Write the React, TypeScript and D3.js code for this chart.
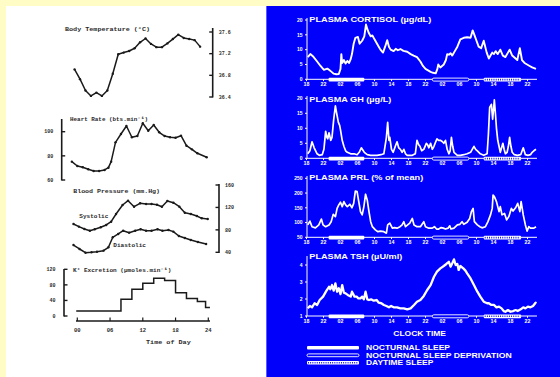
import React from 'react';
import * as d3 from 'd3';

const W = 560;
const H = 377;

// ---------------- LEFT PANEL DATA (one day) ----------------
const dayTicks = [0, 6, 12, 18, 24];
const dayTickLabels = ['00', '06', '12', '18', '24'];

const tempHours = [-0.5, 0.5, 1.5, 2.5, 3.5, 4.5, 5.5, 6.5, 7.5, 8.5, 9.5, 10.5, 11.5, 12.5, 13.5, 14.5, 15.5, 16.5, 17.5, 18.5, 19.5, 20.5, 21.5, 22.5];
const tempValues = [36.91, 36.73, 36.52, 36.42, 36.48, 36.42, 36.52, 36.83, 37.19, 37.22, 37.25, 37.3, 37.41, 37.48, 37.38, 37.32, 37.32, 37.39, 37.47, 37.55, 37.49, 37.47, 37.45, 37.33];
const tempTicks = [36.4, 36.8, 37.2, 37.6];

const hrHours = [-1, 0, 1, 2, 3, 4, 5, 5.7, 6.2, 7, 8, 9, 10, 11, 12, 13, 14, 15, 16, 17, 18, 19, 20, 21, 22, 23.7];
const hrValues = [75.2, 71.6, 70.5, 68.9, 67.5, 67.5, 68.3, 70.2, 75.2, 91.2, 98.1, 104.7, 95.4, 96.4, 107, 100.8, 105.5, 99.5, 96.4, 95.4, 95, 96.7, 88.4, 85.4, 82.1, 78.8];
const hrTicks = [60, 80, 100];

const sysHours = [-0.7, 0.3, 1.3, 2.3, 3.2, 4.3, 5.3, 6.2, 7.1, 8.3, 9.3, 10.4, 11.5, 12.6, 13.6, 14.6, 15.5, 16.5, 17.6, 18.7, 19.7, 20.8, 21.9, 22.8, 23.9];
const sysValues = [90.5, 85.7, 81.6, 78.5, 81, 84.6, 88.7, 94.6, 108.3, 124.3, 132, 121.3, 127.4, 126.1, 126.1, 124.9, 121.3, 131.5, 128.4, 121.3, 110.6, 108.3, 104.7, 100.6, 99.4];
const diaHours = [-0.7, 0.4, 1.5, 2.6, 3.6, 4.8, 5.7, 6.5, 7.5, 8.4, 9.5, 10.6, 11.6, 12.6, 13.6, 14.7, 15.6, 16.7, 17.6, 18.6, 19.7, 20.8, 22.1, 23.6];
const diaValues = [53, 45.9, 39.3, 40, 41.1, 42.9, 48.9, 66.8, 72.7, 78.5, 75, 78.5, 81, 78.5, 78.5, 81, 78.5, 79.8, 76.8, 69, 65.5, 62, 58.4, 54.8];
const bpTicks = [40, 80, 120, 160];

const kStepStarts = [-0.2, 8, 10, 12, 14, 16, 18, 20, 22, 23.5];
const kStepValues = [13, 43, 69, 84, 97, 91, 60, 45, 37, 22];
const kStepEnd = 24.3;
const kTicks = [0, 40, 80, 120];

// ---------------- RIGHT PANEL DATA (three days) ----------------
const clockTicks = [0, 4, 8, 12, 16, 20, 24, 28, 32, 36, 40, 44, 48, 52];
const clockLabels = ['18', '22', '02', '06', '10', '14', '18', '22', '02', '06', '10', '14', '18', '22'];

const nocturnalSleep = [5.2, 13.6];
const sleepDeprivation = [29.6, 38.2];
const daytimeSleep = [41.7, 50.5];

const cortT = [0.3, 0.9, 1.5, 2.5, 3.3, 4.1, 4.9, 5.3, 5.9, 6.4, 7.0, 7.6, 8.0, 8.2, 8.4, 8.8, 9.2, 9.6, 10.0, 10.4, 10.7, 11.1, 11.5, 12.1, 12.5, 13.1, 13.6, 14.0, 14.3, 14.7, 15.1, 15.5, 15.8, 16.2, 16.6, 17.0, 17.4, 18.0, 18.5, 19.0, 19.4, 19.8, 20.5, 21.0, 21.5, 22.1, 22.8, 23.7, 24.5, 25.2, 26.0, 26.8, 27.4, 28.0, 28.6, 29.2, 29.8, 30.4, 30.8, 31.0, 31.5, 32.3, 32.8, 33.1, 33.5, 33.9, 34.3, 34.9, 35.5, 36.2, 37.0, 37.8, 38.6, 39.1, 39.5, 40.0, 40.5, 41.1, 41.7, 42.4, 42.9, 43.3, 43.7, 44.1, 44.5, 45.0, 45.6, 46.2, 46.8, 47.4, 47.8, 48.4, 48.8, 49.2, 49.6, 50.2, 50.7, 51.3, 51.9, 52.5, 53.1, 54.0];
const cortV = [7.5, 8.5, 7.8, 6, 4.5, 3.2, 3.6, 3.2, 2.5, 1.9, 1.7, 1.8, 3.5, 8.5, 5.5, 6.5, 5.3, 6.2, 5.5, 6.8, 8.5, 12, 14, 14.3, 12, 13, 14.5, 18.5, 17, 15.5, 14.5, 14.8, 14, 13, 12, 11, 10, 9, 11, 13.2, 11, 10, 9.5, 10.3, 9.8, 10.2, 9.6, 9.3, 8.5, 8, 7.5, 6, 4.5, 3.5, 3, 2.5, 2.2, 2, 3.5, 5, 4, 5, 6.5, 8.5, 8.3, 8.8, 8, 9.5, 11, 13.5, 14, 14.2, 14, 16.5, 15, 13, 11, 10.5, 13, 9, 7, 8, 9, 8.5, 9.5, 8.5, 10, 8, 7.5, 9, 10, 8, 7.5, 7, 6.5, 10.5, 6.5, 5.5, 5, 4.5, 4, 3.5];
const cortTicks = [0, 5, 10, 15, 20];

const ghT = [0.3, 0.8, 1.3, 1.8, 2.5, 3.0, 3.7, 4.1, 4.5, 4.8, 5.0, 5.3, 5.7, 6.0, 6.4, 6.8, 7.1, 7.5, 7.8, 8.0, 8.4, 8.8, 9.2, 9.6, 10.4, 11.2, 11.9, 12.4, 12.9, 13.6, 14.3, 15.1, 16.6, 17.5, 18.2, 18.8, 19.1, 19.4, 19.6, 20.0, 20.4, 20.9, 21.3, 21.7, 22.1, 22.5, 22.9, 23.3, 23.7, 24.9, 25.6, 26.0, 26.4, 26.7, 27.1, 27.6, 28.2, 28.5, 28.8, 29.2, 29.6, 30.0, 30.4, 30.7, 31.1, 31.5, 32.0, 32.3, 32.7, 33.1, 33.5, 33.8, 34.1, 34.4, 34.7, 35.5, 36.2, 37.0, 37.8, 38.6, 39.0, 39.4, 39.8, 40.2, 40.9, 41.7, 42.5, 42.8, 43.1, 43.5, 43.8, 44.2, 44.5, 44.7, 45.0, 45.3, 45.6, 46.2, 46.5, 46.8, 47.2, 47.5, 47.8, 48.1, 48.4, 48.9, 49.6, 50.4, 51.0, 51.5, 52.1, 52.7, 53.1, 53.5, 54.0];
const ghV = [1.5, 2.5, 5.5, 3.5, 1.5, 1, 1.2, 3, 9, 7, 6.5, 8.5, 6, 7, 13, 17.5, 15, 12, 11, 9.5, 6, 4, 2.5, 2, 1.5, 1.5, 1.2, 2, 3.5, 2, 1.2, 1, 1, 1.2, 1.5, 7, 12, 6, 7, 3, 2, 4, 5.5, 3.5, 3, 2, 3, 1.5, 1, 1, 1.5, 6, 4.5, 4, 2.5, 3, 5, 4.5, 3.5, 5, 3, 4, 5.5, 6.5, 6, 6, 5.5, 5, 6, 3, 1.5, 2.5, 7, 4, 2, 1, 1, 1.2, 1.5, 2, 3, 4, 3, 2.5, 1.5, 1, 1.5, 8, 17, 18, 13, 19.5, 14, 10, 6, 4, 2, 5, 3, 1.5, 2, 4, 7, 4, 2, 1.2, 1, 1.2, 3.5, 1.2, 1, 1.2, 2, 2.5, 3];
const ghTicks = [0, 5, 10, 15, 20];

const prlT = [0.3, 0.8, 1.3, 2.1, 2.9, 3.5, 3.9, 4.5, 5.3, 5.8, 6.3, 6.8, 7.2, 7.6, 8.0, 8.4, 8.8, 9.2, 9.6, 10.2, 10.7, 11.1, 11.5, 11.9, 12.3, 12.7, 13.1, 13.5, 13.9, 14.3, 14.7, 15.1, 15.5, 16.2, 16.8, 17.4, 18.2, 18.8, 19.1, 19.6, 20.2, 20.7, 21.3, 22.0, 22.5, 22.9, 23.3, 23.8, 24.3, 24.9, 25.3, 26.0, 26.8, 27.6, 28.0, 28.8, 29.6, 30.1, 30.6, 31.1, 31.7, 32.2, 32.7, 33.3, 33.7, 34.0, 34.7, 35.5, 36.1, 36.6, 37.0, 37.8, 38.4, 38.8, 39.2, 39.5, 40.2, 40.8, 41.3, 42.1, 42.7, 43.3, 43.7, 43.9, 44.2, 44.7, 45.3, 45.6, 46.0, 46.6, 47.1, 47.6, 48.2, 48.6, 49.2, 49.7, 50.2, 50.5, 51.0, 51.5, 51.9, 52.3, 52.7, 53.5, 54.0];
const prlV = [92, 105, 86, 82, 92, 112, 92, 86, 92, 103, 128, 120, 148, 160, 169, 154, 171, 160, 154, 162, 150, 165, 207, 205, 171, 137, 126, 154, 196, 176, 137, 103, 86, 75, 69, 71, 69, 64, 92, 98, 81, 83, 81, 86, 92, 103, 86, 92, 98, 114, 92, 86, 86, 103, 86, 81, 81, 86, 78, 78, 83, 81, 78, 81, 89, 78, 81, 92, 94, 103, 94, 101, 114, 137, 148, 103, 92, 86, 82, 86, 103, 126, 148, 193, 188, 171, 137, 154, 126, 131, 109, 120, 148, 139, 150, 165, 137, 171, 126, 92, 71, 86, 81, 81, 86];
const prlTicks = [50, 100, 150, 200, 250];

const tshT = [0.3, 0.8, 1.3, 1.9, 2.5, 3.1, 3.9, 4.7, 5.3, 5.6, 6.0, 6.4, 6.8, 7.2, 7.6, 8.0, 8.4, 8.8, 9.2, 9.7, 10.4, 10.7, 11.3, 11.8, 12.2, 12.7, 13.1, 13.5, 13.9, 14.3, 14.7, 15.2, 15.8, 16.5, 17.0, 17.6, 18.2, 18.8, 19.4, 19.9, 20.5, 21.3, 22.1, 22.9, 23.7, 24.5, 25.3, 26.0, 26.8, 27.6, 28.4, 29.2, 30.0, 30.7, 31.5, 32.3, 32.9, 33.5, 33.9, 34.3, 34.7, 35.1, 35.5, 35.8, 36.2, 36.9, 37.4, 37.8, 38.6, 39.4, 40.2, 40.9, 41.7, 42.5, 42.9, 43.5, 44.1, 44.7, 45.3, 45.9, 46.4, 46.8, 47.4, 48.0, 48.6, 49.2, 49.7, 50.4, 51.0, 51.5, 52.1, 52.7, 53.3, 53.9, 54.1];
const tshV = [1.45, 1.59, 1.51, 1.75, 1.65, 1.94, 2.14, 2.49, 2.72, 2.57, 2.82, 2.49, 2.92, 2.43, 2.63, 2.29, 2.82, 2.37, 2.33, 2.24, 2.14, 2.43, 2.14, 2.14, 2.04, 2.04, 2.14, 1.98, 2.43, 1.98, 1.94, 1.98, 1.9, 1.94, 1.78, 1.75, 1.65, 1.59, 1.51, 1.59, 1.51, 1.51, 1.45, 1.45, 1.39, 1.45, 1.65, 1.84, 1.94, 2.18, 2.53, 2.82, 3.31, 3.61, 3.8, 3.94, 4.06, 4.19, 3.9, 4.1, 4.33, 4.0, 4.06, 3.71, 3.94, 3.8, 3.67, 3.51, 3.21, 2.82, 2.43, 2.14, 1.84, 1.75, 1.75, 1.65, 1.65, 1.51, 1.55, 1.45, 1.29, 1.25, 1.35, 1.25, 1.29, 1.35, 1.29, 1.39, 1.51, 1.45, 1.55, 1.51, 1.59, 1.78, 1.75];
const tshTicks = [1, 2, 3, 4];

const legendLabels = ['NOCTURNAL SLEEP', 'NOCTURNAL SLEEP DEPRIVATION', 'DAYTIME SLEEP'];

// ---------------- SCALES ----------------
const xDay = d3.scaleLinear().domain([0, 24]).range([77.3, 208.3]);
const yTemp = d3.scaleLinear().domain([36.4, 37.6]).range([97, 32]);
const yHR = d3.scaleLinear().domain([60, 100]).range([180, 131.7]);
const yBP = d3.scaleLinear().domain([40, 160]).range([252.3, 185]);
const yK = d3.scaleLinear().domain([0, 120]).range([316, 269.3]);

const xClock = d3.scaleLinear().domain([0, 52]).range([306.5, 527.5]);
const yCort = d3.scaleLinear().domain([0, 20]).range([79.3, 20]);
const yGH = d3.scaleLinear().domain([0, 20]).range([158.3, 98.3]);
const yPRL = d3.scaleLinear().domain([50, 250]).range([237.3, 178.3]);
const yTSH = d3.scaleLinear().domain([1, 4]).range([316, 265]);

const MONO = "'Liberation Mono', 'DejaVu Sans Mono', monospace";
const SANS = "'Liberation Sans', Arial, sans-serif";
const INK = '#1a1a1a';
const TXT = '#2a2a2a';
const BLUE = '#0000fb';

function leftLine(hours: number[], vals: number[], y: d3.ScaleLinear<number, number>) {
  const pts: [number, number][] = hours.map((h, i) => [xDay(h), y(vals[i])]);
  const line = d3.line();
  return (
    <g>
      <path d={line(pts) || ''} fill="none" stroke={INK} strokeWidth={1.5} strokeLinejoin="round" />
      {pts.map((p, i) => (
        <circle key={i} cx={p[0]} cy={p[1]} r={1.2} fill={INK} />
      ))}
    </g>
  );
}

function vAxis(x: number, y0: number, y1: number, ticks: number[], y: d3.ScaleLinear<number, number>, side: 'left' | 'right', labels: string[]) {
  const tickDir = side === 'left' ? 1 : -1; // ticks point inward
  return (
    <g>
      <line x1={x} x2={x} y1={y0} y2={y1} stroke={INK} strokeWidth={1.6} />
      {ticks.map((t, i) => (
        <g key={i}>
          <line x1={x} x2={x + tickDir * 3.5} y1={y(t)} y2={y(t)} stroke={INK} strokeWidth={1.4} />
          <text
            x={side === 'left' ? x - 8.5 : x + 6}
            y={y(t)}
            dy="0.35em"
            fontFamily={MONO}
            fontSize={5}
            fontWeight="bold"
            fill={TXT}
            textAnchor={side === 'left' ? 'end' : 'start'}
          >
            {labels[i]}
          </text>
        </g>
      ))}
    </g>
  );
}

function monoText(x: number, y: number, s: string, w: number, size = 6) {
  return (
    <text x={x} y={y} fontFamily={MONO} fontSize={size} fontWeight="bold" fill={TXT} textLength={w} lengthAdjust="spacingAndGlyphs">
      {s}
    </text>
  );
}

function SleepBar({ kind, x0, x1, yc, h }: { kind: number; x0: number; x1: number; yc: number; h: number }) {
  if (kind === 0) {
    return <rect x={x0} y={yc - h / 2} width={x1 - x0} height={h} fill="#fff" rx={1} />;
  }
  if (kind === 1) {
    return <rect x={x0} y={yc - h / 2 + 0.4} width={x1 - x0} height={h - 0.8} fill={BLUE} stroke="#fff" strokeWidth={0.9} rx={1.5} />;
  }
  return (
    <g>
      <rect x={x0} y={yc - h / 2} width={x1 - x0} height={h} fill="#fff" rx={1} />
      <line x1={x0 + 1} x2={x1 - 1} y1={yc} y2={yc} stroke={BLUE} strokeWidth={1.6} strokeDasharray="0.9,1.3" />
    </g>
  );
}

function RightPanel({
  title, titleW, titleY, t, v, y, ticks, axisTop, axisY, lw,
}: {
  title: string; titleW: number; titleY: number; t: number[]; v: number[];
  y: d3.ScaleLinear<number, number>; ticks: number[]; axisTop: number; axisY: number; lw: number;
}) {
  const line = d3.line<number>().x((_, i) => xClock(t[i])).y((d) => y(d));
  const ax = 307;
  const periods = [nocturnalSleep, sleepDeprivation, daytimeSleep];
  return (
    <g>
      <line x1={ax} x2={ax} y1={axisTop} y2={axisY} stroke="#fff" strokeWidth={1} />
      {ticks.map((tk, i) => (
        <g key={i}>
          <line x1={ax - 2} x2={ax} y1={y(tk)} y2={y(tk)} stroke="#fff" strokeWidth={1} />
          <text x={ax - 4.5} y={y(tk)} dy="0.35em" textAnchor="end" fontFamily={SANS} fontWeight="bold" fontSize={5} fill="#fff">
            {tk}
          </text>
        </g>
      ))}
      <line x1={ax} x2={537} y1={axisY} y2={axisY} stroke="#fff" strokeWidth={1} />
      {clockTicks.map((tk, i) => (
        <g key={i}>
          <line x1={xClock(tk)} x2={xClock(tk)} y1={axisY} y2={axisY + 1.8} stroke="#fff" strokeWidth={1} />
          <text x={xClock(tk)} y={axisY + 7} textAnchor="middle" fontFamily={SANS} fontWeight="bold" fontSize={5.3} fill="#fff">
            {clockLabels[i]}
          </text>
        </g>
      ))}
      {periods.map((p, i) => (
        <SleepBar key={i} kind={i} x0={xClock(p[0])} x1={xClock(p[1])} yc={axisY + 0.3} h={3.8} />
      ))}
      <path d={line(v) || ''} fill="none" stroke="#fff" strokeWidth={lw} strokeLinejoin="round" />
      <text x={309.3} y={titleY} fontFamily={SANS} fontWeight="bold" fontSize={7.2} fill="#fff" textLength={titleW} lengthAdjust="spacingAndGlyphs">
        {title}
      </text>
    </g>
  );
}

export default function App() {
  const kPts: [number, number][] = [];
  kStepStarts.forEach((s, i) => {
    const e = i < kStepStarts.length - 1 ? kStepStarts[i + 1] : kStepEnd;
    kPts.push([xDay(s), yK(kStepValues[i])]);
    kPts.push([xDay(e), yK(kStepValues[i])]);
  });
  const kLine = d3.line()(kPts) || '';

  return (
    <svg width={W} height={H} style={{ position: 'absolute', left: 0, top: 0 }}>
      <rect x={0} y={0} width={W} height={H} fill="#fffcc6" />
      <rect x={6} y={6} width={260} height={H - 6} fill="#fff" />
      <rect x={266} y={6} width={W - 266} height={H - 6} fill={BLUE} />
      <line x1={266.5} x2={266.5} y1={6} y2={H} stroke="#5a5aff" strokeWidth={1} />

      {/* ---------- LEFT PANEL ---------- */}
      <g>
        {monoText(65, 31, 'Body Temperature (°C)', 85)}
        {vAxis(212.7, 28, 97.5, tempTicks, yTemp, 'right', tempTicks.map((d) => d.toFixed(1)))}
        {leftLine(tempHours, tempValues, yTemp)}

        {monoText(70, 120.5, 'Heart Rate (bts.min⁻¹)', 78)}
        {vAxis(61.7, 119, 180.5, hrTicks, yHR, 'left', hrTicks.map(String))}
        {leftLine(hrHours, hrValues, yHR)}

        {monoText(73.3, 193, 'Blood Pressure (mm.Hg)', 86.7)}
        {vAxis(219, 184, 253, bpTicks, yBP, 'right', bpTicks.map(String))}
        {leftLine(sysHours, sysValues, yBP)}
        {leftLine(diaHours, diaValues, yBP)}
        {monoText(79.3, 218, 'Systolic', 29)}
        {monoText(113.3, 246.7, 'Diastolic', 32.7)}

        {monoText(73, 271.5, 'K⁺ Excretion (µmoles.min⁻¹)', 98.3)}
        {vAxis(64, 269, 316.5, kTicks, yK, 'left', kTicks.map(String))}
        <path d={kLine} fill="none" stroke={INK} strokeWidth={1.5} />

        <line x1={76} x2={210} y1={321} y2={321} stroke={INK} strokeWidth={1.6} />
        {dayTicks.map((d, i) => (
          <g key={i}>
            <line x1={xDay(d)} x2={xDay(d)} y1={321} y2={317.5} stroke={INK} strokeWidth={1.2} />
            <text x={xDay(d)} y={331.7} textAnchor="middle" fontFamily={MONO} fontWeight="bold" fontSize={5.5} fill={TXT}>
              {dayTickLabels[i]}
            </text>
          </g>
        ))}
        {monoText(146, 344, 'Time of Day', 44.7)}
      </g>

      {/* ---------- RIGHT PANEL ---------- */}
      <RightPanel title="PLASMA CORTISOL (µg/dL)" titleW={122} titleY={21.7} t={cortT} v={cortV} y={yCort} ticks={cortTicks} axisTop={18} axisY={79.3} lw={1.9} />
      <RightPanel title="PLASMA GH (µg/L)" titleW={82} titleY={101.5} t={ghT} v={ghV} y={yGH} ticks={ghTicks} axisTop={96} axisY={158.3} lw={1.7} />
      <RightPanel title="PLASMA PRL (% of mean)" titleW={114} titleY={180.2} t={prlT} v={prlV} y={yPRL} ticks={prlTicks} axisTop={176} axisY={237.3} lw={1.7} />
      <RightPanel title="PLASMA TSH (µU/ml)" titleW={93} titleY={258.5} t={tshT} v={tshV} y={yTSH} ticks={tshTicks} axisTop={256} axisY={316} lw={2.3} />

      <text x={393.3} y={336} fontFamily={SANS} fontWeight="bold" fontSize={7} fill="#fff" textLength={52.7} lengthAdjust="spacingAndGlyphs">
        CLOCK TIME
      </text>
      {legendLabels.map((lab, i) => {
        const yc = [347.7, 355.3, 362.7][i];
        const widths = [84, 145.7, 67.3];
        return (
          <g key={i}>
            <SleepBar kind={i} x0={307} x1={359} yc={yc} h={3.6} />
            <text x={366} y={yc + 2.5} fontFamily={SANS} fontWeight="bold" fontSize={6.6} fill="#fff" textLength={widths[i]} lengthAdjust="spacingAndGlyphs">
              {lab}
            </text>
          </g>
        );
      })}
    </svg>
  );
}
